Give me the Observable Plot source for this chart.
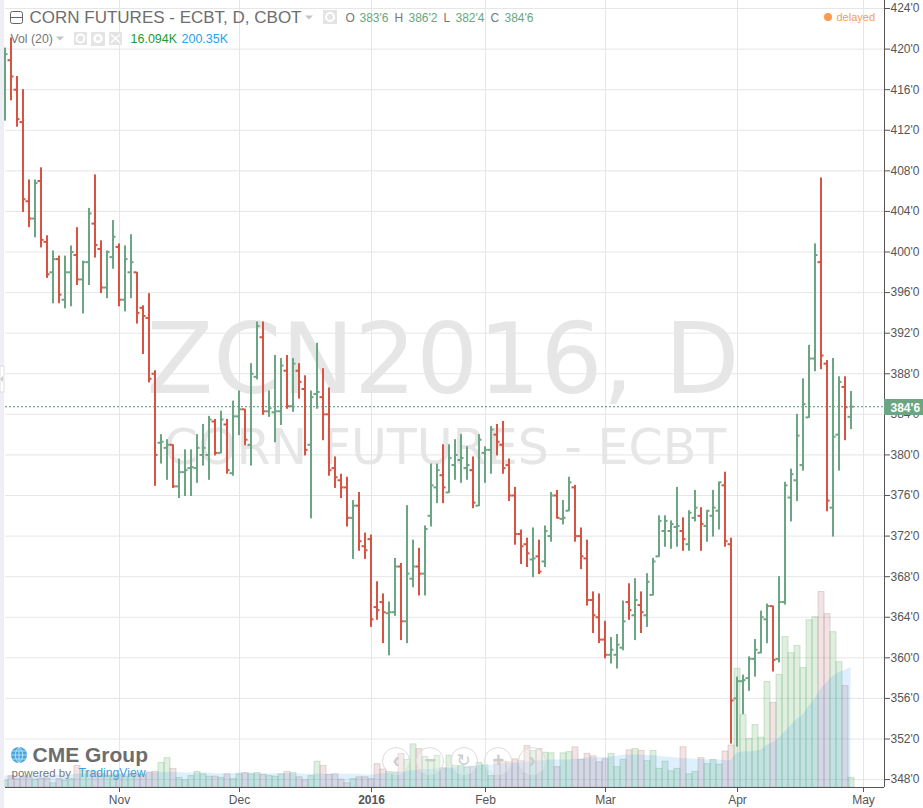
<!DOCTYPE html>
<html>
<head>
<meta charset="utf-8">
<style>html,body{margin:0;padding:0;background:#fff}svg{display:block}</style>
<script src="https://cdn.jsdelivr.net/npm/d3@7"></script>
<script src="https://cdn.jsdelivr.net/npm/@observablehq/plot@0.6"></script>
</head>
<body>
<div id="chart"></div>
<script>
const opens = [418,418.9,416,412.8,405,403.3,407,401,398,399.3,395.3,398,399.7,397.3,399,402.8,400.3,396.5,399.5,400.5,
395.3,398,398,394.5,393.5,388,381.2,380.7,381,376.9,378.3,378.7,378.7,380,380,383.3,380.2,383,378.2,383.8,
384.5,381,387.7,391.6,384.3,384.2,384.3,388.3,384.8,388.3,386.5,381,386,385.7,384,378.7,377.5,376.8,373.8,375,
371,371.7,365,365.5,364.4,364.5,369,363.6,367.8,369,368.3,374,376.8,378,376.3,379,379.5,378.7,378.5,375,
380.2,380.5,382,381,379,376,372.2,371.2,369.7,370,369.5,372,376,373.7,374.5,376.8,372,369.8,365.7,364,
361.8,360.3,360.3,361,365.5,364.2,365.2,364.2,366.2,370,372.5,372.5,372.9,372.5,371.2,373.8,374,373,374,374.5,
377,371.2,356,357.7,358,359.9,360.5,363.8,365.1,359.9,365.5,375.8,377.5,379,383.7,389.5,399,389,374.8,382,
386.7,383.75];
const highs = [420.1,421.1,417.3,416,407.1,407.1,408.3,401.6,400.1,399.6,399.6,400.6,402.4,399.1,404.3,407.6,401.1,400.1,403.1,400.8,
400.6,401.7,398,394.7,395.9,388.3,382,381.5,381,379.6,380.5,380.5,382,383,383.8,383.5,384.3,383.5,385.3,386.3,
384.5,389,393.1,393.1,386.3,389.8,389.5,389.8,389.5,389,387.8,386.3,391,388.5,386.6,379.8,378.1,377.8,375.5,376.3,
372.3,372.1,367.5,366.3,365.5,369.8,369.3,375,371.6,370.8,373,379.1,379.1,381,381,381.5,382,380.8,379.8,382,
380.8,382.8,383,383.3,379.6,376.8,372.6,371.8,372.8,371.6,373,376.3,376.5,375.5,377.8,377,372.8,371.6,366.5,366.3,
363.6,362,362.3,365.6,367.3,367.8,366.5,368.3,369.8,374,374,373.5,376.8,373.8,374.5,376.5,374.8,374.5,376.5,377.3,
378.3,371.8,358.1,358.3,360.1,361.8,364.6,365.3,365.1,368,377.3,378.6,384,387.5,390.8,400.8,407.3,389.3,389.5,387.7,
387.7,386.25];
const lows = [412.9,414.9,412.3,403.9,402.4,401.4,400.4,397.4,394.9,394.9,394.4,394.6,396.7,393.9,396.7,399.4,395.9,395.4,398.3,394.6,
394.1,395.4,392.9,389.9,387.1,376.9,379.1,377.5,376.7,375.7,375.9,375.9,377.2,378.9,377.5,379.9,380.1,378.1,377.9,381.9,
380.9,378.9,387.4,383.9,383.7,381.2,382.9,384.5,384.2,385.5,379.9,373.7,384.5,381.4,377.9,376.7,375.7,372.9,369.7,370.5,
369.7,363,363.7,361.4,360.2,364.1,361.7,361.4,366.9,366.1,366.1,372.9,375.2,375.2,376.2,377.5,377.2,377.5,374.7,374.9,
377.2,378.1,379.9,378.1,375.4,371.1,369.2,368.9,367.9,368.2,368.9,371.4,373.7,373.1,374.4,371.4,368.7,365.1,362.4,361.4,
359.9,359.4,358.9,360.7,363.7,361.7,362.4,363,366.1,369.9,370.9,370.7,370.9,370.5,370.5,373.4,370.5,371.4,371.9,372.6,
370.9,351.5,351.2,354.4,356.7,358.1,360.4,361.4,358.6,359.5,365.2,373.4,375.4,378.4,383.6,388.2,388.4,374.4,371.9,378.4,
381.4,382.5];
const closes = [419.5,417.3,413.1,405.2,403.3,406.8,401.2,397.8,399.3,395.8,398,400,397.3,399,403.8,400.7,396.5,400,401.5,395.3,
399.3,399,394,393.7,387.5,380,381.3,381,376.9,378.3,378.5,378.8,380.7,380.7,383.5,380.2,383.5,378.5,383.8,384.5,
381.5,388,392.7,384.3,384.6,384.3,388.8,384.8,389,387.2,380.5,385.7,386.2,384,378.5,377.8,376.8,373.8,375,371.5,
370.6,363.8,364.7,364.5,364.5,369,363.6,368.3,369,368.3,372.7,377,378.5,376.8,379.7,380,379.7,379,375.3,381.5,
380.5,382.5,381.3,378.7,376,372.2,371,370.3,369.8,368.5,372.5,376,373.8,373.8,377.3,372,370,365.7,364.2,361.8,
360.3,360.8,361.3,363.6,364.7,365.7,364.5,367.5,369.5,373.5,373.5,373.2,373,371.7,374.3,374.8,373.2,374.5,374.8,377.3,
371.5,355.8,357.7,357.8,359.9,360.8,364,365.1,359.8,365.5,377,378.1,381.9,385,389.5,399.7,389.8,375.5,381.8,387.2,
384.7,384.75];
// Volume and its 20-day average, in thousands
const volumes = [11,19,14,17,16,13,15,15,7,14,11,14,36,28,25,26,23,19,19,21,
18,21,21,21,25,26,41,49,31,16,12,19,26,22,18,18,16,22,14,22,
24,22,24,21,19,18,22,26,24,17,12,19,43,36,21,22,13,7,14,17,
17,14,39,30,26,25,56,46,72,64,51,44,53,32,53,36,36,33,34,41,
37,19,43,43,42,47,44,69,61,64,58,57,34,57,59,67,46,56,52,42,
47,56,34,46,62,64,61,44,61,31,43,27,31,67,22,26,49,39,46,38,
60,70,198,121,81,104,83,176,141,188,251,224,236,199,279,284,326,289,259,209,
169,16.094];
const volumeAvg = [19,19,20,20,20,20,21,21,21,21,21,21,22,22,22,22,23,23,23,23,
23,23,23,24,24,24,25,25,25,25,24,24,24,24,24,23,23,23,23,24,
24,24,23,23,23,23,23,23,23,23,22,22,22,22,22,22,22,22,22,22,
21,21,22,23,24,25,26,27,28,29,30,30,31,32,32,33,35,36,36,37,
37,37,39,39,40,41,42,42,43,44,45,46,46,46,46,47,47,49,49,50,
50,51,52,54,54,54,54,53,53,52,51,50,49,48,48,47,47,46,46,46,
45,45,57,59,59,60,62,70,75,82,93,103,114,121,135,148,164,175,185,192,
195,200.35];
const priceTicks = d3.range(348, 425, 4);
const monthTicks = [19, 39, 80, 100, 122, 143];
const monthLabels = {19:"Nov", 39:"Dec", 80:"Feb", 100:"Mar", 122:"Apr", 143:"May"};
const yearTicks = [61];
const yearLabels = {61:"2016"};
const titleText = "CORN FUTURES - ECBT, D, CBOT";
const lastClose = closes[closes.length - 1];

const UP = "#6ba583", DOWN = "#d75442";
const SANS = "'Liberation Sans', Arial, sans-serif";
const yMin = 347.22, yMax = 424.79, xMin = 0.0833, xMax = 146.58;
const volumeUnit = 0.0591; // price units per thousand contracts in the overlay pane
const bars = closes.map((c, i) => ({
  i, o: opens[i], h: highs[i], l: lows[i], c, up: c >= opens[i],
  v: yMin + volumes[i] * volumeUnit, ma: yMin + volumeAvg[i] * volumeUnit
}));

const colorOf = d => d.up ? UP : DOWN;
const label = (s, x, y, o = {}) => Plot.text([s], {
  text: d => d, frameAnchor: "top-left", dx: x - 5, dy: y, textAnchor: "start",
  lineAnchor: "middle", fontFamily: SANS, fontSize: 13, fill: "#777", ...o
});

function decoration() {
  const g = d3.create("svg:g");
  // left toolbar strip
  g.append("rect").attr("x", 0).attr("y", 0).attr("width", 4).attr("height", 808).attr("fill", "#eeeef5");
  g.append("rect").attr("x", 0).attr("y", 366).attr("width", 4).attr("height", 26).attr("fill", "#fff").attr("stroke", "#ddd");
  g.append("path").attr("d", "M0 379l3-3v6z").attr("fill", "#ccc");
  // collapse box
  g.append("rect").attr("x", 10.5).attr("y", 11.5).attr("width", 12).attr("height", 12).attr("rx", 2).attr("fill", "#fff").attr("stroke", "#666");
  g.append("path").attr("d", "M11 17.5h11").attr("stroke", "#666");
  // dropdown arrows
  g.append("path").attr("d", "M305 15.5h8l-4 4z M56 36.5h8l-4 4z").attr("fill", "#c4c4c4");
  // icon boxes
  [[323, 10, 14], [74, 32, 13], [91, 32, 14], [109, 32, 13]].forEach(([x, y, s]) =>
    g.append("rect").attr("x", x).attr("y", y).attr("width", s).attr("height", s).attr("fill", "#e4e4e4"));
  [[330, 17], [80.5, 38.5]].forEach(([x, y]) => {
    g.append("circle").attr("cx", x).attr("cy", y).attr("r", 4).attr("fill", "none").attr("stroke", "#fff").attr("stroke-width", 2);
  });
  g.append("circle").attr("cx", 98).attr("cy", 38.5).attr("r", 3.5).attr("fill", "none").attr("stroke", "#fff").attr("stroke-width", 2.5);
  g.append("path").attr("d", "M111 34.5l9 8M120 34.5l-9 8").attr("stroke", "#fff").attr("stroke-width", 1.5);
  // delayed dot
  g.append("circle").attr("cx", 828).attr("cy", 17).attr("r", 4).attr("fill", "#ff9a4d");
  // last price tag
  g.append("rect").attr("x", 884).attr("y", 399).attr("width", 39).attr("height", 16).attr("fill", UP);
  // CME globe
  g.append("circle").attr("cx", 19).attr("cy", 755).attr("r", 8).attr("fill", "#4aa5dc");
  g.append("path").attr("d", "M11 755h16M12.5 751h13M12.5 759h13M19 747v16M19 747c-5 5-5 11 0 16M19 747c5 5 5 11 0 16")
    .attr("stroke", "#cfe8f6").attr("fill", "none").attr("stroke-width", 0.8);
  // navigation buttons
  [396, 430, 464, 498, 532].forEach(cx =>
    g.append("circle").attr("cx", cx).attr("cy", 761).attr("r", 13.5)
      .attr("fill", "#fff").attr("fill-opacity", 0.25).attr("stroke", "#ddd").attr("stroke-width", 1));
  return g.node();
}

const marks = [
  // watermarks
  Plot.text(["ZCN2016, D"], {text: d => d, frameAnchor: "top", dy: 361, dx: -2, lineAnchor: "middle",
    fontFamily: "'DejaVu Sans'", fontSize: 97.5, fill: "#e6e6e6"}),
  Plot.text(["CORN FUTURES - ECBT"], {text: d => d, frameAnchor: "top", dy: 448, dx: 0, lineAnchor: "middle",
    fontFamily: "'DejaVu Sans'", fontSize: 49, fill: "#e6e6e6"}),
  // grid
  Plot.ruleY(priceTicks, {stroke: "#e6e6e6", strokeWidth: 1}),
  Plot.ruleX([...monthTicks, ...yearTicks], {stroke: "#e6e6e6", strokeWidth: 1, dx: 0.5}),
  // volume pane
  Plot.rect(bars, {x1: d => d.i - 0.5, x2: d => d.i + 0.5, y1: () => yMin, y2: "v", dx: 0.5,
    fill: d => d.up ? "#7dbd7d" : "#c98f8f", fillOpacity: 0.24,
    stroke: d => d.up ? "#5fa86a" : "#a87a7a", strokeOpacity: 0.28, strokeWidth: 1}),
  Plot.areaY(bars, {x: "i", y1: () => yMin, y2: "ma", fill: "#2196f3", fillOpacity: 0.15, curve: "linear"}),
  // dashed last price
  Plot.ruleY([lastClose], {stroke: "#3c9a6e", strokeWidth: 1, strokeDasharray: "2,2"}),
  // OHLC bars
  Plot.ruleX(bars, {x: "i", y1: "l", y2: "h", stroke: colorOf, strokeWidth: 2}),
  Plot.ruleY(bars, {y: "o", x1: d => d.i - 0.5, x2: "i", stroke: colorOf, strokeWidth: 2}),
  Plot.ruleY(bars, {y: "c", x1: "i", x2: d => d.i + 0.5, stroke: colorOf, strokeWidth: 2}),
  // axes
  Plot.ruleX([xMax], {stroke: "#555", strokeWidth: 1}),
  Plot.ruleY([yMin], {stroke: "#555", strokeWidth: 1}),
  Plot.axisY(priceTicks, {anchor: "right", label: null, tickSize: 5, tickPadding: 1, tickFormat: d => `${d}'0`,
    fontFamily: SANS, fontSize: 12, color: "#555"}),
  Plot.axisX(monthTicks, {label: null, tickSize: 5, tickPadding: 3, tickFormat: d => monthLabels[d],
    fontFamily: SANS, fontSize: 12, color: "#555", dx: 0.5}),
  Plot.axisX(yearTicks, {label: null, tickSize: 5, tickPadding: 3, tickFormat: d => yearLabels[d],
    fontFamily: SANS, fontSize: 12, fontWeight: "bold", color: "#555", dx: 0.5}),
  decoration,
  // header
  label(titleText, 29, 17.5, {fontSize: 17, fill: "#6e6e6e"}),
  label("O", 345, 17.5, {fontSize: 12}),
  label("383'6", 359, 17.5, {fontSize: 12, fill: UP}),
  label("H", 394, 17.5, {fontSize: 12}),
  label("386'2", 408, 17.5, {fontSize: 12, fill: UP}),
  label("L", 443, 17.5, {fontSize: 12}),
  label("382'4", 455, 17.5, {fontSize: 12, fill: UP}),
  label("C", 490, 17.5, {fontSize: 12}),
  label("384'6", 504, 17.5, {fontSize: 12, fill: UP}),
  label("Vol (20)", 10, 38.5, {fontSize: 12.3}),
  label("16.094K", 130, 38.5, {fontSize: 12.5, fill: "#1e9a2e"}),
  label("200.35K", 181, 38.5, {fontSize: 12.5, fill: "#2aa0f0"}),
  label("delayed", 836, 16.5, {fontSize: 11, fill: "#ff9a4d"}),
  label("384'6", 890, 407.5, {fontSize: 12, fill: "#fff", fontWeight: "bold"}),
  label("CME Group", 32, 755, {fontSize: 21, fontWeight: "bold", fill: "#6d6d6d"}),
  label("powered by", 11, 773, {fontSize: 11.5, fill: "#777"}),
  label("TradingView", 78, 773, {fontSize: 12.2, fill: "#3b9fd6"}),
  label("‹", 392, 760, {fontSize: 22, fill: "#ccc", fontWeight: "bold"}),
  label("−", 424, 760, {fontSize: 20, fill: "#ccc", fontWeight: "bold"}),
  label("↻", 456, 760, {fontSize: 17, fill: "#ccc", fontFamily: "'DejaVu Sans'"}),
  label("+", 492, 760, {fontSize: 20, fill: "#ccc", fontWeight: "bold"}),
  label("›", 528, 760, {fontSize: 22, fill: "#ccc", fontWeight: "bold"})
];

const chart = Plot.plot({
  width: 923, height: 808,
  marginLeft: 5, marginRight: 39, marginTop: 0, marginBottom: 21,
  x: {type: "linear", domain: [xMin, xMax], axis: null},
  y: {type: "linear", domain: [yMin, yMax], axis: null},
  style: {background: "#fff", fontFamily: SANS, overflow: "visible"},
  marks
});
document.getElementById("chart").appendChild(chart);
</script>
</body>
</html>
